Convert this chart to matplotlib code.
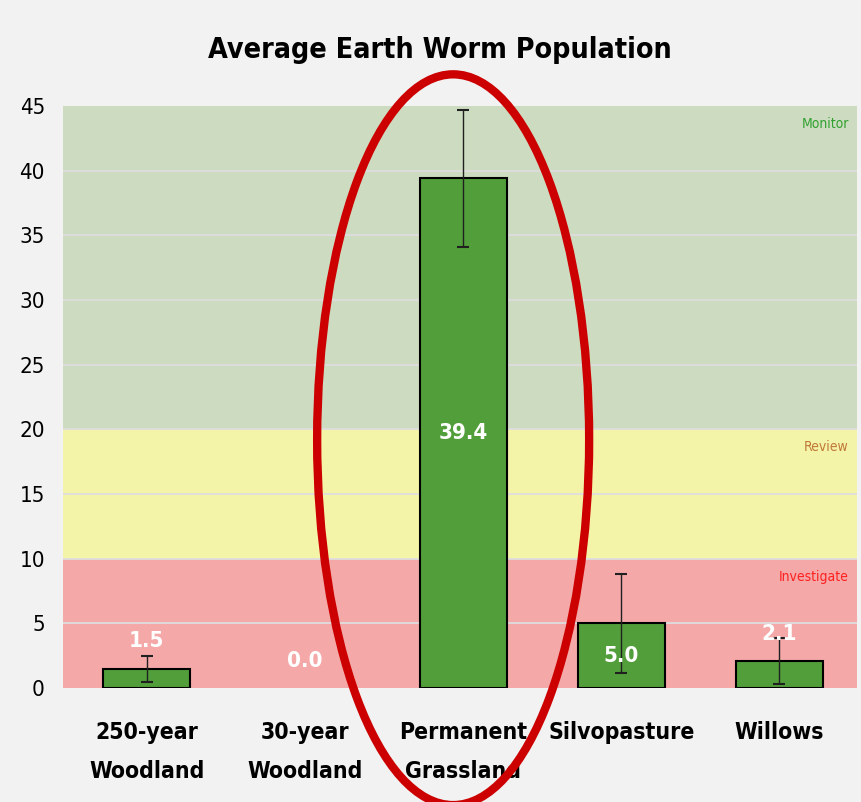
import matplotlib.pyplot as plt
from matplotlib.patches import Ellipse

sites = ['250-year\nWoodland', '30-year\nWoodland', 'Permanent\nGrassland',
         'Silvopasture', 'Willows']
worms = [1.5, 0.0, 39.4, 5.0, 2.1]
errors = [1.0, 0.0, 5.3, 3.8, 1.8]

zones = [(0, 10, '#f4a8a8', 'Investigate', '#ff2020'),
         (10, 20, '#f4f4a8', 'Review', '#c07838'),
         (20, 45, '#cddcc0', 'Monitor', '#30a030')]

plt.rcParams['font.family'] = ['DejaVu Sans']
plt.rcParams['font.stretch'] = 'condensed'

fig = plt.figure(figsize=(8.61, 8.02), dpi=100, facecolor='#f2f2f2')
ax = fig.add_axes([0.0732, 0.1421, 0.922, 0.7257])
ax.set_facecolor('#f2f2f2')

x = list(range(len(sites)))
ax.set_xlim(-0.53, 4.49)
ax.set_ylim(0, 45)

for lo, hi, col, name, tcol in zones:
    ax.axhspan(lo, hi, color=col, zorder=0, lw=0)
    ax.text(0.99, hi - 1.4, name, color=tcol, fontsize=10, ha='right',
            va='center', transform=ax.get_yaxis_transform())

for y in range(5, 45, 5):
    ax.axhline(y, color='#dedede', lw=1.3, zorder=1)

edges = ['black' if v > 0 else 'none' for v in worms]
ax.bar(x, worms, width=0.55, color='#529e3a', edgecolor=edges, lw=1.5,
       zorder=2)

# no error bar where there were no worms
keep = [i for i in x if errors[i] > 0]
ax.errorbar([x[i] for i in keep], [worms[i] for i in keep],
            yerr=[errors[i] for i in keep], fmt='none', ecolor='#202020',
            elinewidth=1, capsize=4, capthick=1.5, zorder=3)

for i, v in enumerate(worms):
    ypos = v / 2 if v >= 4 else v + 2.1
    ax.text(i, ypos, f'{v:.1f}', color='white', fontsize=16, fontweight='bold',
            ha='center', va='center', zorder=4)

ax.set_xticks(x)
ax.set_xticklabels(sites, fontsize=16.5, fontweight='bold', linespacing=1.85)
ax.set_yticks(range(0, 46, 5))
ax.tick_params(axis='y', labelsize=16, length=0, pad=13)
ax.tick_params(axis='x', length=0, pad=24)
for s in ax.spines.values():
    s.set_visible(False)

fig.text(0.511, 0.938, 'Average Earth Worm Population', fontsize=20.5,
         fontweight='bold', ha='center', va='center')

ell = Ellipse((1.937, 19.2), 1.72, 56.5, fill=False, edgecolor='#cc0000',
              lw=6, clip_on=False, zorder=5)
ax.add_patch(ell)

fig.savefig('out.png', dpi=100, facecolor=fig.get_facecolor())
